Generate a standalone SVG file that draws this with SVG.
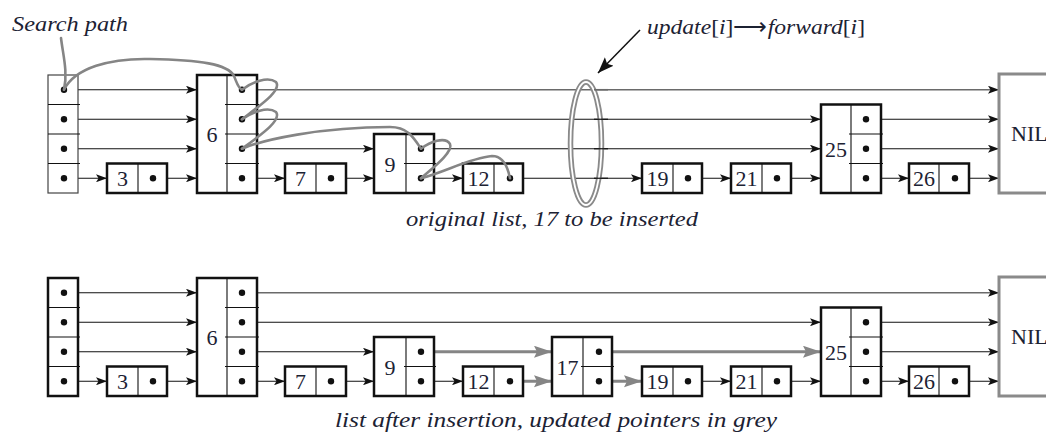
<svg xmlns="http://www.w3.org/2000/svg" width="1046" height="434" viewBox="0 0 1046 434">
  <style>
    .box { fill: #fff; stroke: #111; stroke-width: 2.5; }
    .head { fill: #fff; stroke: #444; stroke-width: 1.2; }
    .div { stroke: #111; stroke-width: 1.1; fill: none; }
    .nil { fill: #fff; stroke: #8a8a8a; stroke-width: 3; }
    .num { fill: #1c2233; text-anchor: middle; }
    .cap { fill: #1c2233; }
    .dot { fill: #111; }
    .ptr { stroke: #111; stroke-width: 1.2; fill: none; marker-end: url(#arr); }
    .ptr4 { stroke: #6a6a6a; stroke-width: 1.6; fill: none; marker-end: url(#arr); }
    .upd { stroke: #858585; stroke-width: 3; fill: none; marker-end: url(#arrGrey); }
    .path { stroke: #858585; stroke-width: 2.6; fill: none; stroke-linecap: round; stroke-linejoin: round; }
  </style>
  <defs>
    <marker id="arr" markerUnits="userSpaceOnUse" markerWidth="12" markerHeight="8" refX="11" refY="4" orient="auto">
      <path d="M0,0 L11,4 L0,8 L2.5,4 z" fill="#111"/>
    </marker>
    <marker id="arrGrey" markerUnits="userSpaceOnUse" markerWidth="20" markerHeight="13" refX="18" refY="6" orient="auto">
      <path d="M0,0 L18,6 L0,12 L3,6 z" fill="#858585"/>
    </marker>
    <marker id="arrBig" markerUnits="userSpaceOnUse" markerWidth="18" markerHeight="13" refX="16" refY="6" orient="auto">
      <path d="M0,0 L16,6 L0,12 L3,6 z" fill="#111"/>
    </marker>
  </defs>

  <rect width="1046" height="434" fill="#fff"/>

  <!-- ===== connectors ===== -->
  <g id="connectors">
    <!-- original list -->
    <g id="top-links">
      <line class="ptr" x1="64" y1="89.75" x2="197" y2="89.75"/>
      <line class="ptr4" x1="242" y1="89.75" x2="999" y2="89.75"/>
      <line class="ptr" x1="64" y1="119.25" x2="197" y2="119.25"/>
      <line class="ptr" x1="242" y1="119.25" x2="821" y2="119.25"/>
      <line class="ptr" x1="866" y1="119.25" x2="999" y2="119.25"/>
      <line class="ptr" x1="64" y1="148.75" x2="197" y2="148.75"/>
      <line class="ptr" x1="242" y1="148.75" x2="374" y2="148.75"/>
      <line class="ptr" x1="421" y1="148.75" x2="821" y2="148.75"/>
      <line class="ptr" x1="866" y1="148.75" x2="999" y2="148.75"/>
      <line class="ptr" x1="64" y1="178.25" x2="107" y2="178.25"/>
      <line class="ptr" x1="153" y1="178.25" x2="197" y2="178.25"/>
      <line class="ptr" x1="242" y1="178.25" x2="285" y2="178.25"/>
      <line class="ptr" x1="331" y1="178.25" x2="374" y2="178.25"/>
      <line class="ptr" x1="421" y1="178.25" x2="463" y2="178.25"/>
      <line class="ptr" x1="510" y1="178.25" x2="642" y2="178.25"/>
      <line class="ptr" x1="688" y1="178.25" x2="731" y2="178.25"/>
      <line class="ptr" x1="777" y1="178.25" x2="821" y2="178.25"/>
      <line class="ptr" x1="866" y1="178.25" x2="909" y2="178.25"/>
      <line class="ptr" x1="955" y1="178.25" x2="999" y2="178.25"/>
    </g>
    <!-- list after insertion -->
    <g id="bottom-links">
      <line class="ptr" x1="64" y1="292.75" x2="197" y2="292.75"/>
      <line class="ptr4" x1="242" y1="292.75" x2="999" y2="292.75"/>
      <line class="ptr" x1="64" y1="322.25" x2="197" y2="322.25"/>
      <line class="ptr" x1="242" y1="322.25" x2="821" y2="322.25"/>
      <line class="ptr" x1="866" y1="322.25" x2="999" y2="322.25"/>
      <line class="ptr" x1="64" y1="351.75" x2="197" y2="351.75"/>
      <line class="ptr" x1="242" y1="351.75" x2="374" y2="351.75"/>
      <line class="upd" x1="421" y1="351.75" x2="552" y2="351.75"/>
      <line class="upd" x1="599" y1="351.75" x2="821" y2="351.75"/>
      <line class="ptr" x1="866" y1="351.75" x2="999" y2="351.75"/>
      <line class="ptr" x1="64" y1="381.25" x2="107" y2="381.25"/>
      <line class="ptr" x1="153" y1="381.25" x2="197" y2="381.25"/>
      <line class="ptr" x1="242" y1="381.25" x2="285" y2="381.25"/>
      <line class="ptr" x1="331" y1="381.25" x2="374" y2="381.25"/>
      <line class="ptr" x1="421" y1="381.25" x2="463" y2="381.25"/>
      <line class="upd" x1="510" y1="381.25" x2="552" y2="381.25"/>
      <line class="upd" x1="599" y1="381.25" x2="642" y2="381.25"/>
      <line class="ptr" x1="688" y1="381.25" x2="731" y2="381.25"/>
      <line class="ptr" x1="777" y1="381.25" x2="821" y2="381.25"/>
      <line class="ptr" x1="866" y1="381.25" x2="909" y2="381.25"/>
      <line class="ptr" x1="955" y1="381.25" x2="999" y2="381.25"/>
    </g>
  </g>

  <!-- ===== ring around the update[i] -> forward[i] pointers ===== -->
  <g id="ring">
    <ellipse cx="586" cy="143.5" rx="15.5" ry="61.5" fill="none" stroke="#8a8a8a" stroke-width="5.5"/>
    <ellipse cx="586" cy="143.5" rx="15.5" ry="61.5" fill="none" stroke="#fff" stroke-width="1.8"/>
    <!-- back half of the ring passes behind the pointers -->
    <line x1="594" y1="89.75" x2="608" y2="89.75" stroke="#6a6a6a" stroke-width="1.6"/>
    <line x1="594" y1="119.25" x2="608" y2="119.25" stroke="#111" stroke-width="1.2"/>
    <line x1="594" y1="148.75" x2="608" y2="148.75" stroke="#111" stroke-width="1.2"/>
    <line x1="594" y1="178.25" x2="608" y2="178.25" stroke="#111" stroke-width="1.2"/>
  </g>

  <!-- ===== original list nodes ===== -->
  <g id="top-nodes" font-family="Liberation Serif, Times New Roman, serif" font-size="22">
    <g id="top-header">
      <rect class="head" x="48" y="75" width="30" height="118"/>
      <path class="div" d="M48,104.5 H80 M48,134 H80 M48,163.5 H80"/>
      <circle class="dot" cx="64" cy="89.75" r="3.2"/>
      <circle class="dot" cx="64" cy="119.25" r="3.2"/>
      <circle class="dot" cx="64" cy="148.75" r="3.2"/>
      <circle class="dot" cx="64" cy="178.25" r="3.2"/>
    </g>
    <g id="top-n3">
      <rect class="box" x="107" y="163.5" width="60" height="29.5"/>
      <line class="div" x1="138" y1="163.5" x2="138" y2="193"/>
      <text class="num" x="122.5" y="186">3</text>
      <circle class="dot" cx="153" cy="178.25" r="3.2"/>
    </g>
    <g id="top-n6">
      <rect class="box" x="197" y="75" width="60" height="118"/>
      <path class="div" d="M227,75 V193 M225,104.5 H259 M225,134 H259 M225,163.5 H259"/>
      <text class="num" x="212" y="142">6</text>
      <circle class="dot" cx="242" cy="89.75" r="3.2"/>
      <circle class="dot" cx="242" cy="119.25" r="3.2"/>
      <circle class="dot" cx="242" cy="148.75" r="3.2"/>
      <circle class="dot" cx="242" cy="178.25" r="3.2"/>
    </g>
    <g id="top-n7">
      <rect class="box" x="285" y="163.5" width="61" height="29.5"/>
      <line class="div" x1="316" y1="163.5" x2="316" y2="193"/>
      <text class="num" x="300.5" y="186">7</text>
      <circle class="dot" cx="331" cy="178.25" r="3.2"/>
    </g>
    <g id="top-n9">
      <rect class="box" x="374" y="134" width="60" height="59"/>
      <path class="div" d="M406,134 V193 M404,163.5 H436"/>
      <text class="num" x="390" y="171.5">9</text>
      <circle class="dot" cx="421" cy="148.75" r="3.2"/>
      <circle class="dot" cx="421" cy="178.25" r="3.2"/>
    </g>
    <g id="top-n12">
      <rect class="box" x="463" y="163.5" width="60" height="29.5"/>
      <line class="div" x1="494" y1="163.5" x2="494" y2="193"/>
      <text class="num" x="478.5" y="186">12</text>
      <circle class="dot" cx="510" cy="178.25" r="3.2"/>
    </g>
    <g id="top-n19">
      <rect class="box" x="642" y="163.5" width="60" height="29.5"/>
      <line class="div" x1="673" y1="163.5" x2="673" y2="193"/>
      <text class="num" x="657.5" y="186">19</text>
      <circle class="dot" cx="688" cy="178.25" r="3.2"/>
    </g>
    <g id="top-n21">
      <rect class="box" x="731" y="163.5" width="60" height="29.5"/>
      <line class="div" x1="762" y1="163.5" x2="762" y2="193"/>
      <text class="num" x="746.5" y="186">21</text>
      <circle class="dot" cx="777" cy="178.25" r="3.2"/>
    </g>
    <g id="top-n25">
      <rect class="box" x="821" y="104.5" width="60" height="88.5"/>
      <path class="div" d="M851,104.5 V193 M849,134 H883 M849,163.5 H883"/>
      <text class="num" x="836" y="156.5">25</text>
      <circle class="dot" cx="866" cy="119.25" r="3.2"/>
      <circle class="dot" cx="866" cy="148.75" r="3.2"/>
      <circle class="dot" cx="866" cy="178.25" r="3.2"/>
    </g>
    <g id="top-n26">
      <rect class="box" x="909" y="163.5" width="60" height="29.5"/>
      <line class="div" x1="939" y1="163.5" x2="939" y2="193"/>
      <text class="num" x="924" y="186">26</text>
      <circle class="dot" cx="955" cy="178.25" r="3.2"/>
    </g>
    <g id="top-nil">
      <rect class="nil" x="999" y="74" width="60" height="119"/>
      <text class="cap" x="1011" y="141">NIL</text>
    </g>
  </g>

  <!-- search path traced through the original list -->
  <g id="search-path">
    <path class="path" d="M61,38 C63,55 68,72 64,89.75"/>
    <path class="path" d="M64,89.75 C75,68 110,58 150,59 C200,60 228,64 234,76 C237,83 238,88 242,89.75"/>
    <path class="path" d="M242,89.75 C252,82 268,76 276,82 C282,90 262,104 242,119.25"/>
    <path class="path" d="M242,119.25 C252,112 268,106 276,112 C282,120 262,134 242,148.75"/>
    <path class="path" d="M242,148.75 C262,140 320,127 390,127 C408,127 414,138 421,148.75"/>
    <path class="path" d="M421,148.75 C430,142 445,136 450,144 C454,152 430,170 421,178.25"/>
    <path class="path" d="M421,178.25 C445,172 470,158 492,156 C504,156 508,168 510,178.25"/>
  </g>

  <!-- ===== list after insertion ===== -->
  <g id="bottom-nodes" font-family="Liberation Serif, Times New Roman, serif" font-size="22">
    <g id="bot-header">
      <rect class="box" x="48" y="278" width="30" height="118"/>
      <path class="div" d="M48,307.5 H80 M48,337 H80 M48,366.5 H80"/>
      <circle class="dot" cx="64" cy="292.75" r="3.2"/>
      <circle class="dot" cx="64" cy="322.25" r="3.2"/>
      <circle class="dot" cx="64" cy="351.75" r="3.2"/>
      <circle class="dot" cx="64" cy="381.25" r="3.2"/>
    </g>
    <g id="bot-n3">
      <rect class="box" x="107" y="366.5" width="60" height="29.5"/>
      <line class="div" x1="138" y1="366.5" x2="138" y2="396"/>
      <text class="num" x="122.5" y="389">3</text>
      <circle class="dot" cx="153" cy="381.25" r="3.2"/>
    </g>
    <g id="bot-n6">
      <rect class="box" x="197" y="278" width="60" height="118"/>
      <path class="div" d="M227,278 V396 M225,307.5 H259 M225,337 H259 M225,366.5 H259"/>
      <text class="num" x="212" y="345">6</text>
      <circle class="dot" cx="242" cy="292.75" r="3.2"/>
      <circle class="dot" cx="242" cy="322.25" r="3.2"/>
      <circle class="dot" cx="242" cy="351.75" r="3.2"/>
      <circle class="dot" cx="242" cy="381.25" r="3.2"/>
    </g>
    <g id="bot-n7">
      <rect class="box" x="285" y="366.5" width="61" height="29.5"/>
      <line class="div" x1="316" y1="366.5" x2="316" y2="396"/>
      <text class="num" x="300.5" y="389">7</text>
      <circle class="dot" cx="331" cy="381.25" r="3.2"/>
    </g>
    <g id="bot-n9">
      <rect class="box" x="374" y="337" width="60" height="59"/>
      <path class="div" d="M406,337 V396 M404,366.5 H436"/>
      <text class="num" x="390" y="374.5">9</text>
      <circle class="dot" cx="421" cy="351.75" r="3.2"/>
      <circle class="dot" cx="421" cy="381.25" r="3.2"/>
    </g>
    <g id="bot-n12">
      <rect class="box" x="463" y="366.5" width="60" height="29.5"/>
      <line class="div" x1="494" y1="366.5" x2="494" y2="396"/>
      <text class="num" x="478.5" y="389">12</text>
      <circle class="dot" cx="510" cy="381.25" r="3.2"/>
    </g>
    <g id="bot-n17">
      <rect class="box" x="552" y="337" width="60" height="59"/>
      <path class="div" d="M583,337 V396 M581,366.5 H614"/>
      <text class="num" x="567.5" y="374.5">17</text>
      <circle class="dot" cx="599" cy="351.75" r="3.2"/>
      <circle class="dot" cx="599" cy="381.25" r="3.2"/>
    </g>
    <g id="bot-n19">
      <rect class="box" x="642" y="366.5" width="60" height="29.5"/>
      <line class="div" x1="673" y1="366.5" x2="673" y2="396"/>
      <text class="num" x="657.5" y="389">19</text>
      <circle class="dot" cx="688" cy="381.25" r="3.2"/>
    </g>
    <g id="bot-n21">
      <rect class="box" x="731" y="366.5" width="60" height="29.5"/>
      <line class="div" x1="762" y1="366.5" x2="762" y2="396"/>
      <text class="num" x="746.5" y="389">21</text>
      <circle class="dot" cx="777" cy="381.25" r="3.2"/>
    </g>
    <g id="bot-n25">
      <rect class="box" x="821" y="307.5" width="60" height="88.5"/>
      <path class="div" d="M851,307.5 V396 M849,337 H883 M849,366.5 H883"/>
      <text class="num" x="836" y="359.5">25</text>
      <circle class="dot" cx="866" cy="322.25" r="3.2"/>
      <circle class="dot" cx="866" cy="351.75" r="3.2"/>
      <circle class="dot" cx="866" cy="381.25" r="3.2"/>
    </g>
    <g id="bot-n26">
      <rect class="box" x="909" y="366.5" width="60" height="29.5"/>
      <line class="div" x1="939" y1="366.5" x2="939" y2="396"/>
      <text class="num" x="924" y="389">26</text>
      <circle class="dot" cx="955" cy="381.25" r="3.2"/>
    </g>
    <g id="bot-nil">
      <rect class="nil" x="999" y="277" width="60" height="119"/>
      <text class="cap" x="1011" y="344">NIL</text>
    </g>
  </g>

  <!-- ===== labels ===== -->
  <g id="labels" font-family="Liberation Serif, Times New Roman, serif" font-size="22" font-style="italic">
    <text class="cap" x="12" y="31" textLength="116" lengthAdjust="spacingAndGlyphs">Search path</text>
    <text class="cap" x="647" y="34" textLength="218" lengthAdjust="spacingAndGlyphs">update<tspan font-style="normal">[</tspan>i<tspan font-style="normal">]⟶</tspan>forward<tspan font-style="normal">[</tspan>i<tspan font-style="normal">]</tspan></text>
    <line x1="640" y1="30" x2="598" y2="73" stroke="#111" stroke-width="1.5" marker-end="url(#arrBig)"/>
    <text class="cap" x="406" y="226" textLength="292" lengthAdjust="spacingAndGlyphs">original list, 17 to be inserted</text>
    <text class="cap" x="335" y="427" textLength="442" lengthAdjust="spacingAndGlyphs">list after insertion, updated pointers in grey</text>
  </g>
</svg>
